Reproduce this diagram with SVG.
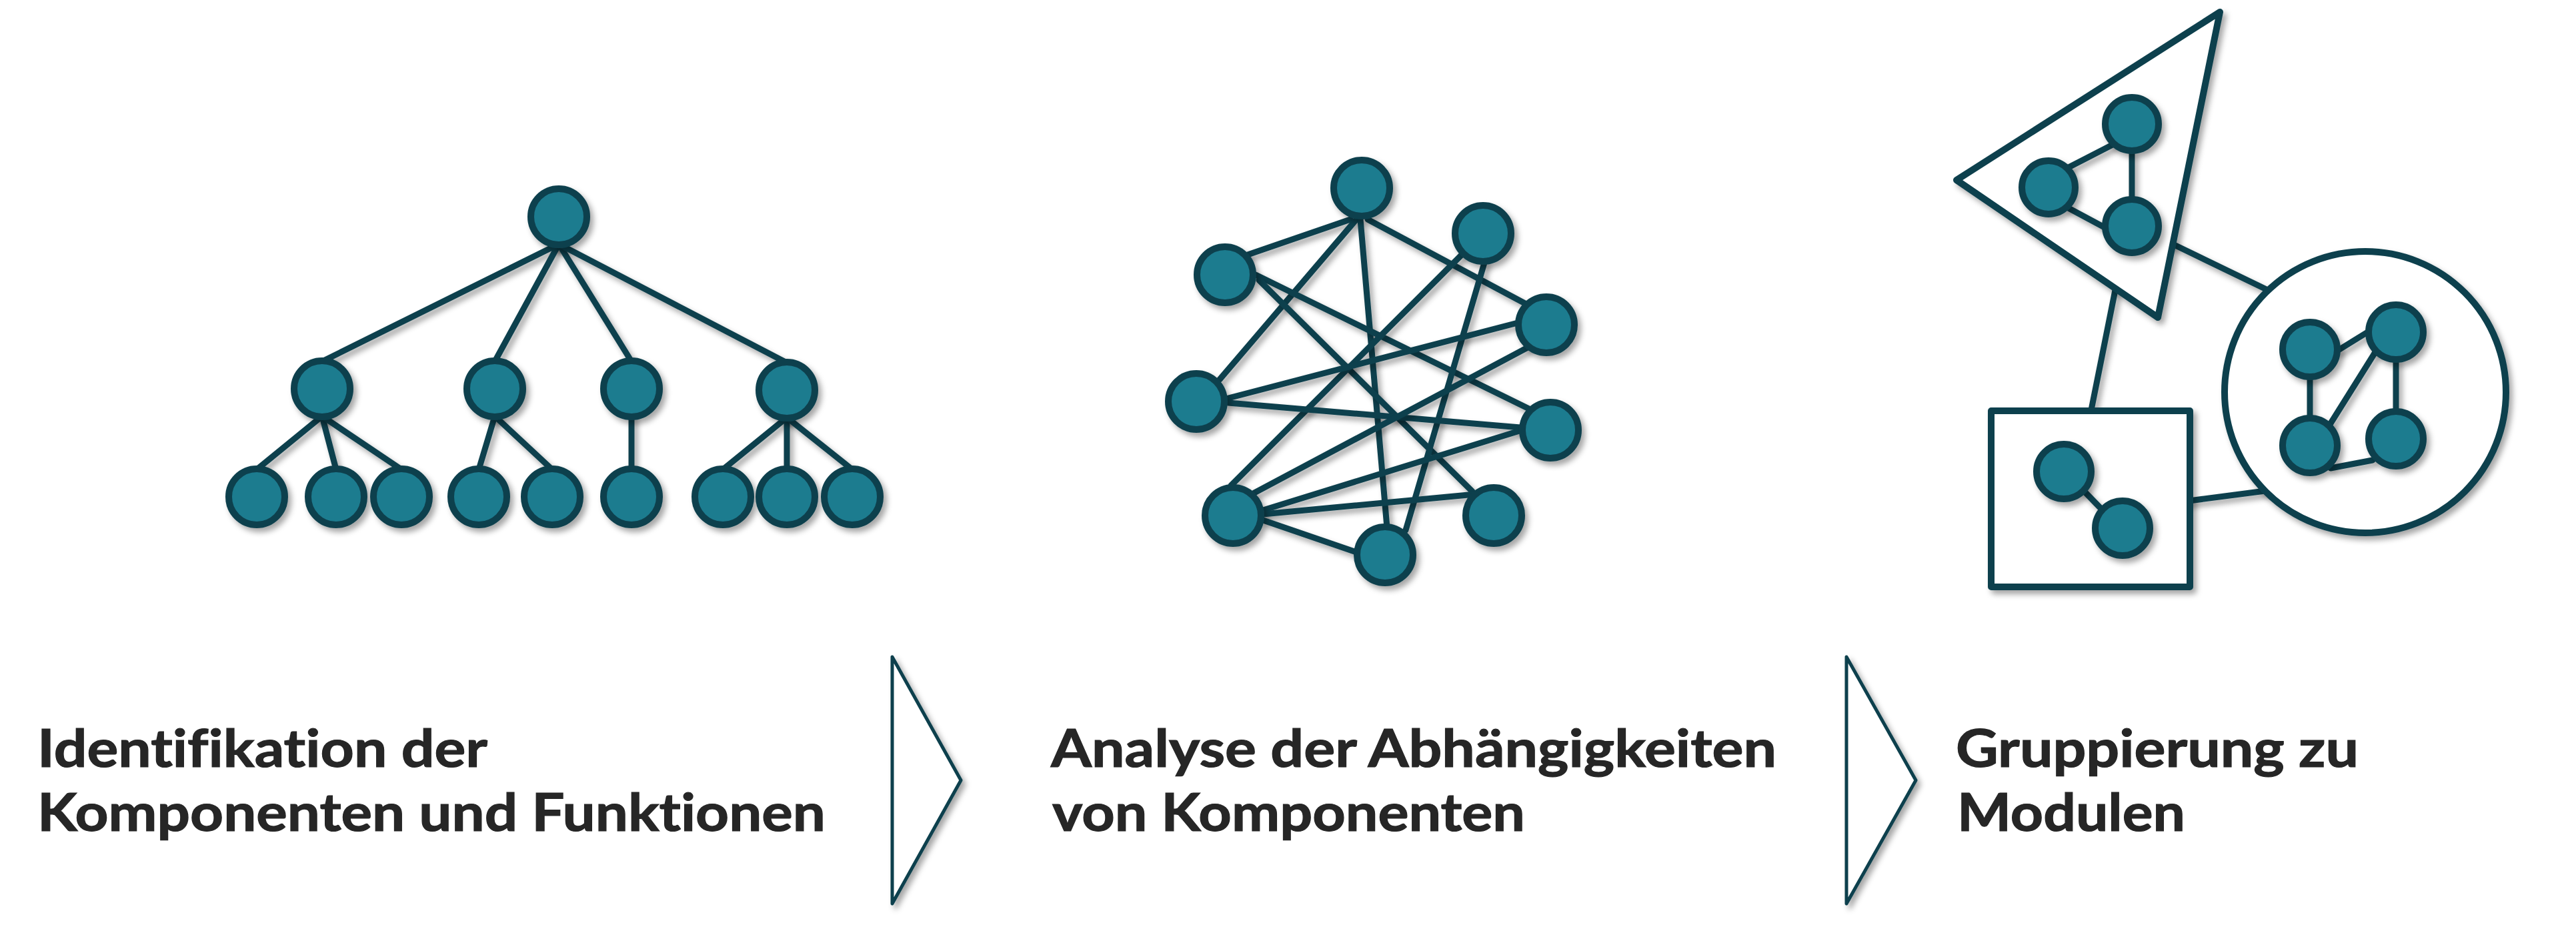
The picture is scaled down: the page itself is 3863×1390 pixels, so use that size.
<svg xmlns="http://www.w3.org/2000/svg" width="3863" height="1390" viewBox="0 0 3863 1390">
<defs>
<filter id="sh" filterUnits="userSpaceOnUse" x="0" y="0" width="3863" height="1390">
<feDropShadow dx="5" dy="6" stdDeviation="4" flood-color="#000" flood-opacity="0.35"/>
</filter>
<style>
.n{fill:#1E7B8F;stroke:#0E404D;stroke-width:10;filter:url(#sh)}
.e{stroke:#0E404D;stroke-width:9;stroke-linecap:round;filter:url(#sh)}
.m{fill:#fff;stroke:#0E404D;stroke-width:10;stroke-linejoin:round;filter:url(#sh)}
.ch{fill:#fff;stroke:#0E404D;stroke-width:5;stroke-linejoin:round;filter:url(#sh)}
.t{font-family:Lato,"Open Sans","Liberation Sans",sans-serif;font-weight:700;font-size:79px;fill:#262626;font-variant-ligatures:none;font-feature-settings:"liga" 0,"clig" 0;stroke:#262626;stroke-width:1.2}
</style>
</defs>
<rect width="3863" height="1390" fill="#fff"/>

<!-- Tree connectors -->
<g id="tree-connectors">
<line class="e" x1="838" y1="366" x2="483" y2="542"/>
<line class="e" x1="838" y1="366" x2="742" y2="542"/>
<line class="e" x1="838" y1="366" x2="947" y2="542"/>
<line class="e" x1="838" y1="366" x2="1180" y2="544"/>
<line class="e" x1="483" y1="624" x2="385" y2="704"/>
<line class="e" x1="483" y1="624" x2="504" y2="704"/>
<line class="e" x1="483" y1="624" x2="602" y2="704"/>
<line class="e" x1="742" y1="624" x2="718" y2="704"/>
<line class="e" x1="742" y1="624" x2="828" y2="704"/>
<line class="e" x1="947" y1="624" x2="947" y2="704"/>
<line class="e" x1="1180" y1="626" x2="1084" y2="704"/>
<line class="e" x1="1180" y1="626" x2="1180" y2="704"/>
<line class="e" x1="1180" y1="626" x2="1278" y2="704"/>
</g>
<g id="tree-root"><circle class="n" cx="838" cy="325" r="42"/></g>
<g id="tree-l2-1"><circle class="n" cx="483" cy="583" r="42"/></g>
<g id="tree-l2-2"><circle class="n" cx="742" cy="583" r="42"/></g>
<g id="tree-l2-3"><circle class="n" cx="947" cy="583" r="42"/></g>
<g id="tree-l2-4"><circle class="n" cx="1180" cy="585" r="42"/></g>
<g id="tree-leaf-1"><circle class="n" cx="385" cy="745" r="42"/></g>
<g id="tree-leaf-2"><circle class="n" cx="504" cy="745" r="42"/></g>
<g id="tree-leaf-3"><circle class="n" cx="602" cy="745" r="42"/></g>
<g id="tree-leaf-4"><circle class="n" cx="718" cy="745" r="42"/></g>
<g id="tree-leaf-5"><circle class="n" cx="828" cy="745" r="42"/></g>
<g id="tree-leaf-6"><circle class="n" cx="947" cy="745" r="42"/></g>
<g id="tree-leaf-7"><circle class="n" cx="1084" cy="745" r="42"/></g>
<g id="tree-leaf-8"><circle class="n" cx="1180" cy="745" r="42"/></g>
<g id="tree-leaf-9"><circle class="n" cx="1278" cy="745" r="42"/></g>

<!-- Network connectors -->
<g id="net-connectors">
<line class="e" x1="2025" y1="329" x2="1868" y2="383"/>
<line class="e" x1="2034" y1="329" x2="1829" y2="569"/>
<line class="e" x1="2040" y1="329" x2="2080" y2="791"/>
<line class="e" x1="2051" y1="329" x2="2287" y2="455"/>
<line class="e" x1="1883" y1="412" x2="2295" y2="614"/>
<line class="e" x1="1888" y1="420" x2="2208" y2="737"/>
<line class="e" x1="2193" y1="381" x2="1846" y2="728"/>
<line class="e" x1="2226" y1="394" x2="2108" y2="795"/>
<line class="e" x1="1842" y1="597" x2="2276" y2="484"/>
<line class="e" x1="1842" y1="604" x2="2280" y2="641"/>
<line class="e" x1="1881" y1="739" x2="2291" y2="521"/>
<line class="e" x1="1894" y1="765" x2="2282" y2="645"/>
<line class="e" x1="1894" y1="771" x2="2213" y2="741"/>
<line class="e" x1="1894" y1="780" x2="2034" y2="828"/>
</g>
<g id="net-a"><circle class="n" cx="2042" cy="282" r="42"/></g>
<g id="net-b"><circle class="n" cx="2224" cy="350" r="42"/></g>
<g id="net-c"><circle class="n" cx="1837" cy="412" r="42"/></g>
<g id="net-d"><circle class="n" cx="2319" cy="487" r="42"/></g>
<g id="net-e"><circle class="n" cx="1794" cy="602" r="42"/></g>
<g id="net-f"><circle class="n" cx="2325" cy="645" r="42"/></g>
<g id="net-g"><circle class="n" cx="1849" cy="773" r="42"/></g>
<g id="net-h"><circle class="n" cx="2240" cy="773" r="42"/></g>
<g id="net-i"><circle class="n" cx="2077" cy="832" r="42"/></g>

<!-- Module connectors -->
<g id="module-connectors">
<line class="e" x1="3250" y1="362" x2="3405" y2="437"/>
<line class="e" x1="3174" y1="425" x2="3134" y2="625"/>
<line class="e" x1="3275" y1="752" x2="3405" y2="735"/>
</g>
<g id="module-triangle">
<path class="m" d="M3329 18 L2934 270 L3236 476 Z"/>
<line class="e" x1="3170" y1="216" x2="3100" y2="252"/>
<line class="e" x1="3197" y1="230" x2="3197" y2="298"/>
<line class="e" x1="3100" y1="311" x2="3156" y2="341"/>
<circle class="n" cx="3197" cy="186" r="40"/>
<circle class="n" cx="3072" cy="281" r="40"/>
<circle class="n" cx="3197" cy="339" r="40"/>
</g>
<g id="module-square">
<rect class="m" x="2986" y="616" width="298" height="264"/>
<line class="e" x1="3120" y1="731" x2="3154" y2="766"/>
<circle class="n" cx="3095" cy="707" r="41"/>
<circle class="n" cx="3183" cy="792" r="41"/>
</g>
<g id="module-circle">
<circle class="m" cx="3547" cy="588" r="211"/>
<line class="e" x1="3505" y1="526" x2="3552" y2="497"/>
<line class="e" x1="3464" y1="565" x2="3464" y2="628"/>
<line class="e" x1="3562" y1="528" x2="3493" y2="638"/>
<line class="e" x1="3593" y1="540" x2="3593" y2="618"/>
<line class="e" x1="3495" y1="702" x2="3558" y2="690"/>
<circle class="n" cx="3464" cy="524" r="41"/>
<circle class="n" cx="3593" cy="498" r="41"/>
<circle class="n" cx="3464" cy="668" r="41"/>
<circle class="n" cx="3593" cy="658" r="41"/>
</g>

<!-- Chevrons -->
<g id="chevron-1"><path class="ch" d="M1338 985 L1441 1170 L1338 1355 Z"/></g>
<g id="chevron-2"><path class="ch" d="M2769 985 L2873 1170 L2769 1355 Z"/></g>

<!-- Labels -->
<g id="label-1">
<text class="t" x="56" y="1150" textLength="675" lengthAdjust="spacingAndGlyphs">Identifikation der</text>
<text class="t" x="56" y="1246" textLength="1182" lengthAdjust="spacingAndGlyphs">Komponenten und Funktionen</text>
</g>
<g id="label-2">
<text class="t" x="1576" y="1150" textLength="1088" lengthAdjust="spacingAndGlyphs">Analyse der Abhängigkeiten</text>
<text class="t" x="1578" y="1246" textLength="709" lengthAdjust="spacingAndGlyphs">von Komponenten</text>
</g>
<g id="label-3">
<text class="t" x="2933" y="1150" textLength="604" lengthAdjust="spacingAndGlyphs">Gruppierung zu</text>
<text class="t" x="2935" y="1246" textLength="342" lengthAdjust="spacingAndGlyphs">Modulen</text>
</g>
</svg>
